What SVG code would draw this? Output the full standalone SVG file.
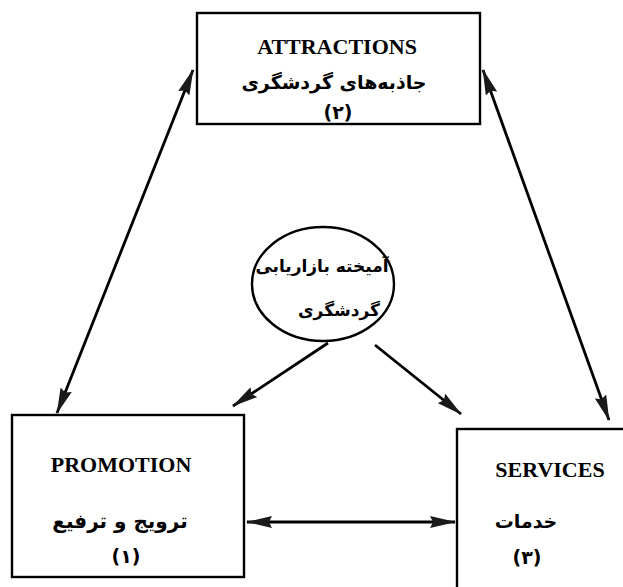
<svg xmlns="http://www.w3.org/2000/svg" width="623" height="587" viewBox="0 0 623 587">
<style>
.box{fill:#fff;stroke:#000;stroke-width:2.4}
.en{font-family:"Liberation Serif",serif;font-weight:bold;font-size:22px;fill:#000}
.fa{font-family:"DejaVu Sans","Noto Sans",sans-serif;font-weight:bold;font-size:19px;fill:#000}
.ln{stroke:#000;stroke-width:2.8;fill:none}
</style>
<defs>
<marker id="ah" viewBox="0 0 26 12" refX="25" refY="6" markerWidth="26" markerHeight="12" markerUnits="userSpaceOnUse" orient="auto-start-reverse">
<path d="M0,0 L26,6 L0,12 L3,6 z" fill="#1a1a1a"/>
</marker>
</defs>
<rect width="623" height="587" fill="#fff"/>
<g id="attractions">
<rect class="box" x="197" y="13" width="283" height="111"/>
<text class="en" x="337" y="54" text-anchor="middle">ATTRACTIONS</text>
<text class="fa" x="334" y="89" text-anchor="middle" direction="rtl">جاذبه‌های گردشگری</text>
<text class="fa" x="338" y="119" text-anchor="middle" direction="rtl">(۲)</text>
</g>
<g id="promotion">
<rect class="box" x="12" y="415" width="232" height="162"/>
<text class="en" x="121" y="472" text-anchor="middle">PROMOTION</text>
<text class="fa" x="120" y="528" text-anchor="middle" direction="rtl" style="font-size:20px">ترویج و ترفیع</text>
<text class="fa" x="126" y="563" text-anchor="middle" direction="rtl">(۱)</text>
</g>
<g id="services">
<rect class="box" x="457" y="429" width="200" height="200"/>
<text class="en" x="550" y="477" text-anchor="middle">SERVICES</text>
<text class="fa" x="526" y="528" text-anchor="middle" direction="rtl">خدمات</text>
<text class="fa" x="527" y="564" text-anchor="middle" direction="rtl">(۳)</text>
</g>
<g id="mix">
<ellipse class="box" cx="323" cy="284" rx="71" ry="57"/>
<text class="fa" x="322" y="272" text-anchor="middle" direction="rtl" style="font-size:17px">آمیخته بازاریابی</text>
<text class="fa" x="339" y="316" text-anchor="middle" direction="rtl" style="font-size:17px">گردشگری</text>
</g>
<g id="connectors">
<line class="ln" x1="193" y1="70" x2="57" y2="413" marker-start="url(#ah)" marker-end="url(#ah)"/>
<line class="ln" x1="483" y1="70" x2="609" y2="420" marker-start="url(#ah)" marker-end="url(#ah)"/>
<line class="ln" x1="328" y1="343" x2="233" y2="406" marker-end="url(#ah)"/>
<line class="ln" x1="375" y1="345" x2="461" y2="414" marker-end="url(#ah)"/>
<line class="ln" x1="247" y1="522" x2="455" y2="522" marker-start="url(#ah)" marker-end="url(#ah)"/>
</g>
</svg>
